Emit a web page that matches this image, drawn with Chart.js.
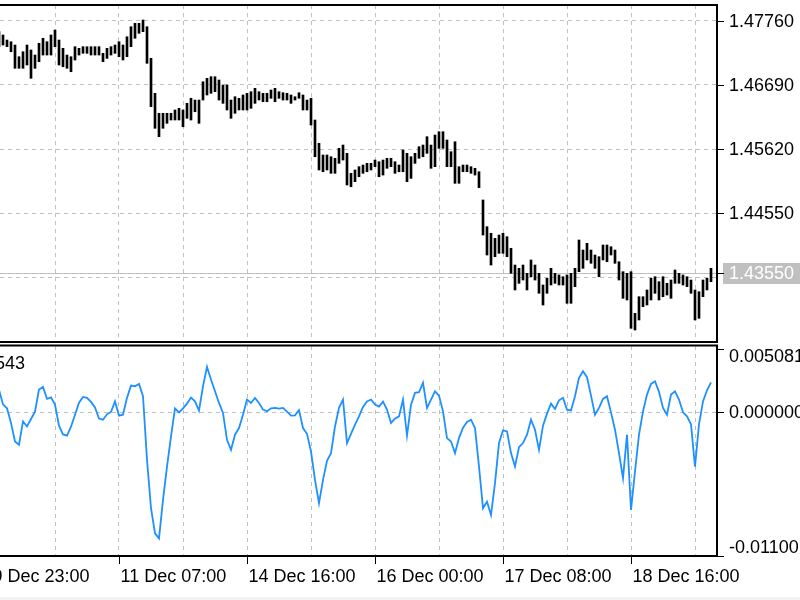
<!DOCTYPE html>
<html><head><meta charset="utf-8">
<script src="https://cdn.jsdelivr.net/npm/chart.js@4.4.0/dist/chart.umd.min.js"></script>
<style>
html,body{margin:0;padding:0;background:#fff;overflow:hidden}
#wrap{position:relative;width:800px;height:600px;background:#fff}
#c1{position:absolute;left:0;top:0;width:800px;height:344px}
#c2{position:absolute;left:0;top:344px;width:800px;height:256px}
#strip{position:absolute;left:0;top:597px;width:800px;height:3px;background:#f2f2f2}
</style></head><body>
<div id="wrap"><canvas id="c1" width="800" height="344"></canvas><canvas id="c2" width="800" height="256"></canvas><div id="strip"></div></div>
<script>
// ---- data (one H1 bar per entry) ----
const highs = [1.47577,1.47522,1.47438,1.47410,1.47355,1.47160,1.47243,1.47355,1.47272,1.47188,
1.47383,1.47467,1.47410,1.47522,1.47605,1.47438,1.47300,1.47188,1.47160,1.47327,
1.47300,1.47327,1.47327,1.47327,1.47327,1.47327,1.47217,1.47300,1.47327,1.47355,
1.47410,1.47355,1.47493,1.47660,1.47717,1.47717,1.47772,1.47660,1.47133,1.46550,
1.46217,1.46217,1.46217,1.46217,1.46272,1.46300,1.46272,1.46383,1.46467,1.46438,
1.46438,1.46743,1.46800,1.46827,1.46827,1.46772,1.46688,1.46688,1.46438,1.46493,
1.46467,1.46522,1.46550,1.46577,1.46633,1.46577,1.46550,1.46550,1.46605,1.46633,
1.46577,1.46560,1.46550,1.46522,1.46493,1.46560,1.46522,1.46438,1.46467,1.46105,
1.45717,1.45522,1.45522,1.45493,1.45467,1.45633,1.45688,1.45550,1.45217,1.45272,
1.45327,1.45355,1.45383,1.45383,1.45438,1.45410,1.45438,1.45467,1.45467,1.45410,
1.45355,1.45605,1.45550,1.45493,1.45550,1.45660,1.45688,1.45827,1.45688,1.45855,
1.45910,1.45910,1.45772,1.45577,1.45743,1.45327,1.45355,1.45355,1.45327,1.45300,
1.45243,1.44772,1.44327,1.44217,1.44133,1.44188,1.44217,1.44160,1.43967,1.43688,
1.43633,1.43688,1.43550,1.43772,1.43688,1.43550,1.43355,1.43467,1.43633,1.43550,
1.43522,1.43493,1.43522,1.43550,1.43633,1.44105,1.43938,1.44050,1.43938,1.43855,
1.43827,1.44022,1.44022,1.43993,1.43938,1.43743,1.43577,1.43550,1.43577,1.42883,
1.43160,1.43160,1.43272,1.43467,1.43493,1.43410,1.43493,1.43383,1.43438,1.43605,
1.43550,1.43522,1.43493,1.43438,1.43272,1.43243,1.43438,1.43467,1.43633];
const lows = [1.47327,1.47355,1.47327,1.47243,1.46967,1.46967,1.46967,1.47022,1.46800,1.46967,
1.47077,1.47188,1.47188,1.47188,1.47327,1.47022,1.46993,1.46967,1.46910,1.47105,
1.47188,1.47217,1.47217,1.47188,1.47188,1.47188,1.47077,1.47133,1.47188,1.47217,
1.47160,1.47105,1.47160,1.47327,1.47467,1.47550,1.47577,1.47050,1.46327,1.45967,
1.45827,1.45967,1.46050,1.46105,1.46105,1.46105,1.45993,1.46133,1.46105,1.46243,
1.46050,1.46438,1.46522,1.46550,1.46577,1.46438,1.46383,1.46272,1.46133,1.46217,
1.46272,1.46272,1.46272,1.46300,1.46383,1.46438,1.46410,1.46410,1.46467,1.46410,
1.46467,1.46438,1.46438,1.46383,1.46438,1.46467,1.46272,1.46272,1.46022,1.45493,
1.45272,1.45243,1.45272,1.45217,1.45217,1.45383,1.45438,1.45022,1.44993,1.45077,
1.45160,1.45217,1.45243,1.45272,1.45327,1.45160,1.45188,1.45300,1.45327,1.45217,
1.45243,1.45243,1.45077,1.45133,1.45383,1.45467,1.45493,1.45550,1.45300,1.45327,
1.45633,1.45633,1.45327,1.45327,1.45050,1.45050,1.45243,1.45243,1.45217,1.45188,
1.44978,1.44188,1.43855,1.43688,1.43827,1.43883,1.43883,1.43827,1.43550,1.43272,
1.43383,1.43438,1.43272,1.43493,1.43438,1.43217,1.43022,1.43217,1.43355,1.43383,
1.43355,1.43355,1.43050,1.43050,1.43327,1.43577,1.43633,1.43772,1.43717,1.43633,
1.43493,1.43772,1.43743,1.43855,1.43717,1.43438,1.43133,1.43105,1.42633,1.42605,
1.42772,1.42993,1.43022,1.43105,1.43217,1.43105,1.43160,1.43188,1.43133,1.43383,
1.43383,1.43355,1.43327,1.43217,1.42772,1.42800,1.43160,1.43272,1.43410];
const osc = [0.00174,0.00061,0.00031,-0.00081,-0.00223,-0.00248,-0.00069,-0.00108,-0.00051,0.00005,
0.00174,0.00195,0.00103,0.00115,0.00059,-0.00102,-0.00169,-0.00179,-0.00110,-0.00018,
0.00074,0.00118,0.00111,0.00080,0.00038,-0.00048,-0.00056,-0.00015,0.00003,0.00084,
-0.00025,-0.00018,0.00111,0.00205,0.00200,0.00218,0.00123,-0.00363,-0.00734,-0.00926,
-0.00965,-0.00670,-0.00415,-0.00184,0.00031,0.00000,0.00031,0.00067,0.00113,0.00084,
0.00013,0.00200,0.00349,0.00251,0.00161,0.00072,-0.00005,-0.00210,-0.00287,-0.00171,
-0.00120,-0.00018,0.00098,0.00072,0.00111,0.00072,0.00021,0.00008,0.00031,0.00034,
0.00028,0.00034,0.00005,-0.00025,-0.00023,0.00018,-0.00120,-0.00164,-0.00300,-0.00517,
-0.00696,-0.00517,-0.00371,-0.00312,-0.00108,0.00034,0.00098,-0.00235,-0.00164,-0.00094,
-0.00031,0.00041,0.00084,0.00098,0.00059,0.00044,0.00082,0.00021,-0.00081,-0.00048,
-0.00031,0.00098,-0.00179,0.00059,0.00149,0.00154,0.00226,0.00034,0.00098,0.00161,
0.00128,0.00008,-0.00197,-0.00223,-0.00312,-0.00197,-0.00118,-0.00074,-0.00056,-0.00120,
-0.00415,-0.00734,-0.00684,-0.00786,-0.00542,-0.00235,-0.00138,-0.00146,-0.00312,-0.00415,
-0.00266,-0.00235,-0.00171,-0.00056,-0.00133,-0.00287,-0.00102,-0.00010,0.00067,0.00026,
0.00092,0.00111,0.00021,0.00015,0.00123,0.00264,0.00315,0.00269,0.00128,-0.00018,
0.00034,0.00103,0.00123,0.00000,-0.00133,-0.00312,-0.00504,-0.00171,-0.00747,-0.00453,
-0.00171,0.00008,0.00136,0.00218,0.00238,0.00157,0.00034,-0.00018,0.00136,0.00161,
0.00098,0.00000,-0.00031,-0.00092,-0.00415,-0.00092,0.00084,0.00169,0.00230];

const timeLabels = ['9 Dec 23:00','11 Dec 07:00','14 Dec 16:00','16 Dec 00:00','17 Dec 08:00','18 Dec 16:00'];
const timeLabelBars = [-2, 30, 62, 94, 126, 158];
const timeGridBars = [14, 30, 46, 62, 78, 94, 110, 126, 142, 158, 174];
const priceTicks = [1.4776, 1.4669, 1.4562, 1.4455];
const priceGrid = [1.4776, 1.4669, 1.4562, 1.4455, 1.4348];
const lastPrice = 1.4355;
const priceRange = [1.42405, 1.48022];
const oscTicks = [0.005081, 0, -0.011];
const oscTickLabels = ['0.005081', '0.000000', '-0.01100'];
const oscLabel = '543';
const barRange = [0.25, 179.5];

const FONT = '18px "Liberation Sans", Arial, sans-serif';
const GRID = '#c0c0c0';

function hline(ctx, x1, x2, y) { ctx.beginPath(); ctx.moveTo(x1, y); ctx.lineTo(x2, y); ctx.stroke(); }
function vline(ctx, x, y1, y2) { ctx.beginPath(); ctx.moveTo(x, y1); ctx.lineTo(x, y2); ctx.stroke(); }

function xScaleOpts() {
  return {
    type: 'linear', min: barRange[0], max: barRange[1], offset: false,
    ticks: { display: false },
    grid: { color: GRID, lineWidth: 1, drawTicks: false, offset: false },
    border: { display: false, dash: [4, 4] },
    afterBuildTicks: s => { s.ticks = timeGridBars.map(v => ({ value: v })); }
  };
}

const upperDeco = {
  id: 'upperDeco',
  beforeDatasetsDraw(chart) {
    const ctx = chart.ctx, a = chart.chartArea, ys = chart.scales.y;
    const py = Math.round(ys.getPixelForValue(lastPrice)) + 0.5;
    ctx.save(); ctx.strokeStyle = GRID; ctx.lineWidth = 1; hline(ctx, a.left, a.right, py); ctx.restore();
  },
  afterDraw(chart) {
    const ctx = chart.ctx, a = chart.chartArea, ys = chart.scales.y;
    ctx.save();
    ctx.strokeStyle = '#000'; ctx.lineWidth = 2;
    hline(ctx, 0, a.right + 1, a.top);
    hline(ctx, 0, a.right + 1, a.bottom);
    vline(ctx, a.right, a.top, a.bottom);
    ctx.font = FONT; ctx.textBaseline = 'middle'; ctx.textAlign = 'left'; ctx.fillStyle = '#000';
    ctx.lineWidth = 1;
    priceTicks.forEach(v => {
      const y = Math.round(ys.getPixelForValue(v)) + 0.5;
      hline(ctx, a.right, a.right + 7, y);
      ctx.fillText(v.toFixed(5), a.right + 12, y + 1);
    });
    const py = Math.round(ys.getPixelForValue(lastPrice)) + 0.5;
    ctx.fillStyle = '#c0c0c0';
    ctx.fillRect(a.right + 6, py - 10.5, chart.width - a.right - 6, 21);
    hline(ctx, a.right, a.right + 7, py);
    ctx.fillStyle = '#fff';
    ctx.fillText(lastPrice.toFixed(5), a.right + 12, py + 1);
    ctx.restore();
  }
};

const lowerDeco = {
  id: 'lowerDeco',
  afterDraw(chart) {
    const ctx = chart.ctx, a = chart.chartArea, ys = chart.scales.y, xs = chart.scales.x;
    ctx.save();
    ctx.strokeStyle = '#000'; ctx.lineWidth = 2;
    hline(ctx, 0, a.right + 1, a.top - 0.5);
    hline(ctx, 0, a.right + 1, a.bottom);
    vline(ctx, a.right, a.top - 0.5, a.bottom);
    ctx.lineWidth = 1;
    ctx.font = FONT; ctx.fillStyle = '#000'; ctx.textBaseline = 'middle'; ctx.textAlign = 'left';
    oscTicks.forEach((v, k) => {
      let y = ys.getPixelForValue(v), ty = y;
      if (k === 0) { y = a.top + 3; ty = a.top + 10; }
      else if (k === oscTicks.length - 1) { y = a.bottom - 0.5; ty = a.bottom - 9; }
      y = Math.round(y) + 0.5;
      hline(ctx, a.right, a.right + 7, y);
      ctx.fillText(oscTickLabels[k], a.right + 12, ty + 1);
    });
    timeLabelBars.forEach((b, k) => {
      const x = Math.round(xs.getPixelForValue(b)) + 0.5;
      vline(ctx, x, a.bottom, a.bottom + 8);
      ctx.fillText(timeLabels[k], x + 1, a.bottom + 21);
    });
    ctx.textAlign = 'right';
    ctx.fillText(oscLabel, 25, a.top + 18);
    ctx.restore();
  }
};

new Chart(document.getElementById('c1'), {
  type: 'bar',
  data: { datasets: [{
    data: highs.map((h, i) => ({ x: i, y: [lows[i], h] })),
    backgroundColor: '#000', borderWidth: 0, barThickness: 2
  }] },
  options: {
    responsive: false, animation: false, events: [],
    layout: { padding: { left: 0, top: 5, right: 83, bottom: 2 } },
    plugins: { legend: { display: false }, tooltip: { enabled: false } },
    scales: {
      x: xScaleOpts(),
      y: {
        type: 'linear', min: priceRange[0], max: priceRange[1],
        ticks: { display: false },
        grid: { color: GRID, lineWidth: 1, drawTicks: false },
        border: { display: false, dash: [4, 4] },
        afterBuildTicks: s => { s.ticks = priceGrid.map(v => ({ value: v })); }
      }
    }
  },
  plugins: [upperDeco]
});

new Chart(document.getElementById('c2'), {
  type: 'line',
  data: { datasets: [{
    data: osc.map((v, i) => ({ x: i, y: v })),
    borderColor: '#1e90ff', borderWidth: 1.8, pointRadius: 0, tension: 0, fill: false
  }] },
  options: {
    responsive: false, animation: false, events: [],
    layout: { padding: { left: 0, top: 2, right: 83, bottom: 44 } },
    plugins: { legend: { display: false }, tooltip: { enabled: false } },
    scales: {
      x: xScaleOpts(),
      y: {
        type: 'linear', min: oscTicks[2], max: oscTicks[0],
        ticks: { display: false },
        grid: { color: GRID, lineWidth: 1, drawTicks: false },
        border: { display: false, dash: [4, 4] },
        afterBuildTicks: s => { s.ticks = [{ value: oscTicks[1] }]; }
      }
    }
  },
  plugins: [lowerDeco]
});
</script>
</body></html>
